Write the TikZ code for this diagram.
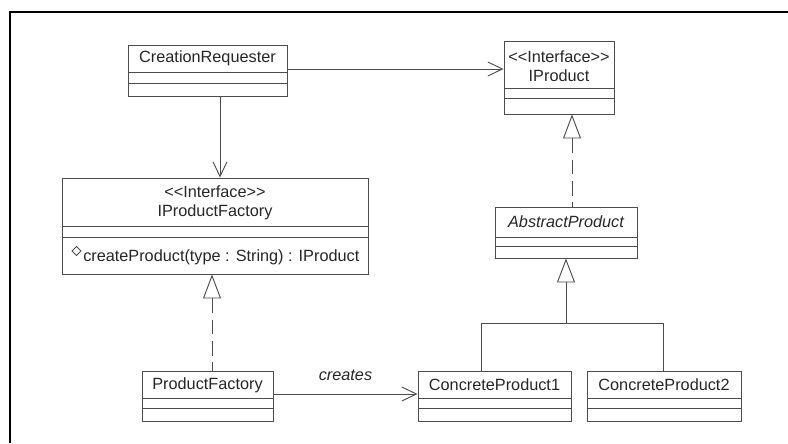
\documentclass[tikz,border=0pt]{standalone}
\usepackage{fontspec}
\setmainfont{Liberation Sans}
\usetikzlibrary{arrows.meta,calc,fit}

\begin{document}
\begin{tikzpicture}[x=0.75pt,y=-0.75pt,
  cls/.style={draw=black!70,line width=0.7pt,inner sep=0pt},
  sep/.style={draw=black!70,line width=0.7pt},
  lbl/.style={inner sep=0pt,align=center,text=black!85,font=\fontsize{12.2}{14.2}\selectfont},
  nav/.style={sep,-{Straight Barb[length=11pt,width=10.5pt]}},
  real/.style={sep,dash pattern=on 11pt off 5pt,{Triangle[open,length=18pt,width=13.5pt]}-},
  gen/.style={sep,{Triangle[open,length=18pt,width=13.5pt]}-}]
\useasboundingbox (0,0) rectangle (788,443);
\draw[line width=2.2pt] (10,443) -- (10,12) -- (790,12);
% class boxes: name / left / top / right / bottom / compartment lines
\foreach \n/\xa/\ya/\xb/\yb/\sa/\sb in {cr/128/45/287/96/72/83,
    ip/504/41/614/114/88/98, ipf/62/178/368/274/226/237,
    ap/495/207/637/258/237/246, pf/142/371/273/421/398/408,
    cpa/418/371/571/421/398/408, cpb/587/371/741/421/398/408}{
  \node[cls,fit={(\xa,\ya)(\xb,\yb)}] (\n) {};
  \draw[sep] (\xa,\sa) -- (\xb,\sa) (\xa,\sb) -- (\xb,\sb);
}
\node[lbl] (cr-name) at (207.5,58.5) {CreationRequester};
\node[lbl] (ip-name) at (559,66) {<{}<Interface>{}>\\IProduct};
\node[lbl] (ipf-name) at (215,202.5) {<{}<Interface>{}>\\IProductFactory};
\node[lbl,anchor=west] (ipf-op) at (83,257) {createProduct(type : String) : IProduct};
\draw[sep,line width=0.6pt] (72,251) -- (76.5,246.5) -- (81,251) -- (76.5,255.5) -- cycle;
\node[lbl,font=\fontsize{12.2}{14.2}\selectfont\itshape] (ap-name) at (566,222) {AbstractProduct};
\node[lbl] (pf-name) at (207.5,385) {ProductFactory};
\node[lbl] (cpa-name) at (494.5,385) {ConcreteProduct1};
\node[lbl] (cpb-name) at (664,385) {ConcreteProduct2};
% helper positions for the connectors
\coordinate (crx) at (220,0);
\coordinate (cry) at (0,69);
\coordinate (pfx) at (212,0);
\coordinate (pfy) at (0,394);
\coordinate (apx) at (572,0);
\coordinate (j1) at (481,323);
\coordinate (j2) at (663,323);
\draw[nav] (cr.south -| crx) -- (ipf.north -| crx);
\draw[nav] (cr.east |- cry) -- (ip.west |- cry);
\draw[real] (ipf.south -| pfx) -- (pf.north -| pfx);
\draw[real] (ip.south -| apx) -- (ap.north -| apx);
\draw[nav] (pf.east |- pfy) -- node[lbl,above=10pt,font=\fontsize{12.2}{14.2}\selectfont\itshape] (creates) {creates} (cpa.west |- pfy);
\draw[gen] (ap.south) -- (ap.south |- j1);
\draw[sep] (j1) -- (j2) (j1) -- (j1 |- cpa.north) (j2) -- (j2 |- cpb.north);
\end{tikzpicture}
\end{document}
